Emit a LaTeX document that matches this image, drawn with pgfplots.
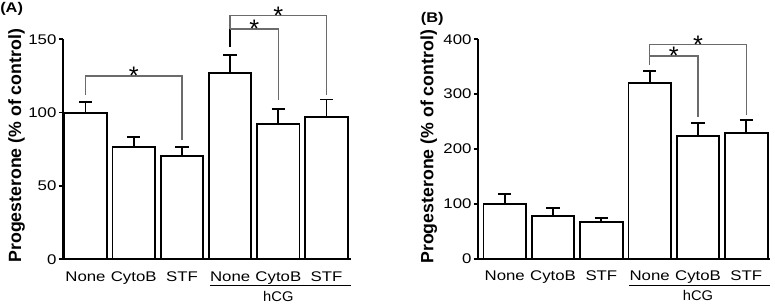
\documentclass[border=0pt]{standalone}
\usepackage{fontspec}
\setmainfont{Liberation Sans}
\newfontfamily\plainsans{Liberation Sans}
\usepackage{graphicx}
\usepackage{pgfplots}
\pgfplotsset{compat=1.18}
\usepackage{pgfplotstable}
\definecolor{brk}{gray}{0.42}
\newcommand{\lbl}[1]{{\fontsize{10.5}{12}\selectfont\scalebox{1.2}[1]{#1}}}

\pgfplotstableread{
x y e
0 100 7.5
1 76.6 6.6
2 70.7 5.9
3 126.8 12.5
4 92.3 10.2
5 96.8 12.1
}\dataA
\pgfplotstableread{
x y e
0 100 17.9
1 77.2 15.8
2 66.9 6.7
3 321 21.9
4 224.3 23.7
5 229.8 22.5
}\dataB

\tikzset{
  brkline/.style={brk, line width=1pt},
  star/.style={font=\plainsans\fontsize{19}{19}\selectfont, anchor=base, yshift=-6.6pt, inner sep=0pt},
}
\pgfplotsset{
  panel/.style={
    scale only axis,
    axis x line=bottom, axis y line=left,
    axis line style={-, line width=1.6pt},
    clip=false,
    ymin=0,
    xtick={0,...,5},
    xticklabels={\lbl{None},\lbl{CytoB},\lbl{STF},\lbl{None},\lbl{CytoB},\lbl{STF}},
    major x tick style={draw=none},
    tick align=outside,
    major tick length=3pt,
    tick style={line width=1.2pt, black},
    yticklabel={\lbl{\pgfmathprintnumber{\tick}}},
    /pgf/number format/assume math mode=true,
    xticklabel style={anchor=base, yshift=-13.3pt},
    yticklabel style={inner sep=1.5pt},
    ylabel={Progesterone (\% of control)},
    bar width=0.88,
  },
  bars/.style={ybar, draw=black, fill=white, line width=1.4pt,
    error bars/.cd, y dir=plus, y explicit,
    error bar style={line width=1.4pt, black},
    error mark options={rotate=90, line width=1.4pt, mark size=5pt, black}},
}

\begin{document}
\begin{tikzpicture}
\path[use as bounding box] (0,0) rectangle (581.25pt,228.75pt);

\begin{axis}[panel, at={(47.0pt,34.3pt)}, anchor=south west, width=216pt, height=165pt,
  xmin=-0.473, xmax=5.5, ymax=150, ytick={0,50,100,150},
  ylabel style={at={(axis description cs:-0.16,0.516)}, anchor=center,
    font=\plainsans\bfseries\fontsize{13.3}{15}\selectfont}]
\addplot[bars] table[x=x, y=y, y error=e] {\dataA};
\draw[brkline] (axis cs:0,112) -- (axis cs:0,125) -- (axis cs:2,125) -- (axis cs:2,81.4);
\node[star] at (axis cs:1,125) {*};
\draw[black, line width=1.5pt] (axis cs:3,145) -- (axis cs:3,157.3);
\draw[brkline] (axis cs:3,157) -- (axis cs:4,157) -- (axis cs:4,108.6);
\draw[brkline] (axis cs:3,157) -- (axis cs:3,166) -- (axis cs:5,166) -- (axis cs:5,112);
\node[star] at (axis cs:3.5,157) {*};
\node[star] at (axis cs:4,166) {*};
\draw[black, line width=0.75pt] (axis cs:2.58,-18) -- (axis cs:5.5,-18);
\node[anchor=base, inner sep=0pt, font=\fontsize{10.5}{12}\selectfont] at (axis cs:4,-28.6) {\scalebox{1.05}[1]{hCG}};
\end{axis}

\begin{axis}[panel, at={(358.3pt,34.7pt)}, anchor=south west, width=219.2pt, height=164.6pt,
  xmin=-0.559, xmax=5.49, ymax=400, ytick={0,100,200,300,400},
  ylabel style={at={(axis description cs:-0.167,0.51)}, anchor=center,
    font=\plainsans\bfseries\fontsize{13.3}{15}\selectfont}]
\addplot[bars] table[x=x, y=y, y error=e] {\dataB};
\draw[brkline] (axis cs:3,354) -- (axis cs:3,369.6) -- (axis cs:4,369.6) -- (axis cs:4,259);
\draw[brkline] (axis cs:3,369.6) -- (axis cs:3,391) -- (axis cs:5,391) -- (axis cs:5,262);
\node[star] at (axis cs:3.5,369.6) {*};
\node[star] at (axis cs:4,391) {*};
\draw[black, line width=0.75pt] (axis cs:2.58,-49.2) -- (axis cs:5.49,-49.2);
\node[anchor=base, inner sep=0pt, font=\fontsize{10.5}{12}\selectfont] at (axis cs:4,-77) {\scalebox{1.05}[1]{hCG}};
\end{axis}

\node[anchor=base west, inner sep=0pt, font=\bfseries\fontsize{10.5}{12}\selectfont] at (0pt,219.75pt) {\scalebox{1.17}[1]{(A)}};
\node[anchor=base west, inner sep=0pt, font=\bfseries\fontsize{10.5}{12}\selectfont] at (315.5pt,212.25pt) {\scalebox{1.17}[1]{(B)}};
\end{tikzpicture}
\end{document}
